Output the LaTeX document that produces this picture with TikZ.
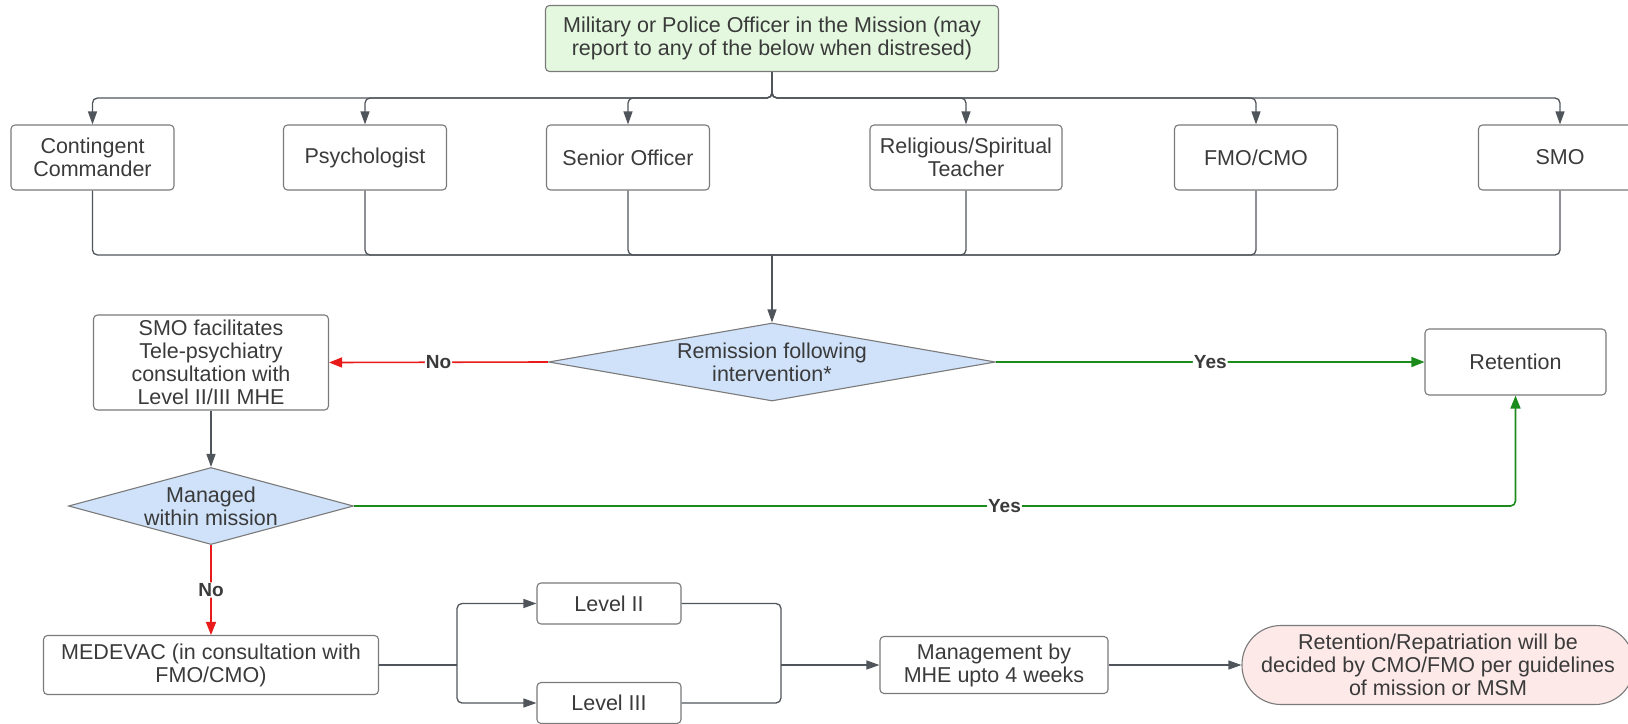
\documentclass[tikz,border=0pt]{standalone}
\usepackage{fontspec}
\setmainfont{Liberation Sans}
\usepackage{xcolor}
\usetikzlibrary{arrows.meta, shapes.geometric, positioning}

\definecolor{startgreen}{HTML}{E3F8DF}
\definecolor{decblue}{HTML}{CFE2FA}
\definecolor{endpink}{HTML}{FCE9E8}
\definecolor{linegray}{HTML}{50555B}
\definecolor{boxgray}{HTML}{7A7A7A}
\definecolor{txtgray}{HTML}{3A3A3A}
\definecolor{noRed}{HTML}{E81A1A}
\definecolor{yesGreen}{HTML}{1B8C1B}

\tikzset{
  box/.style={draw=boxgray, line width=1.1pt, rounded corners=4pt, align=center,
    text=txtgray, inner sep=2pt, font=\fontsize{21.5}{23}\selectfont},
  decision/.style={diamond, draw=boxgray, fill=decblue, line width=1.1pt, align=center,
    text=txtgray, inner sep=0pt, font=\fontsize{21.5}{23}\selectfont},
  conn/.style={draw=linegray, line width=1.3pt, rounded corners=5pt},
  arr/.style={conn, -{Triangle[length=13pt,width=9pt]}},
  noarr/.style={draw=noRed, line width=1.6pt, rounded corners=5pt, -{Triangle[length=13pt,width=10pt]}},
  yesarr/.style={draw=yesGreen, line width=1.6pt, rounded corners=5pt, -{Triangle[length=13pt,width=10pt]}},
  lbl/.style={fill=white, inner sep=1pt, text=txtgray, font=\bfseries\fontsize{19}{21}\selectfont}
}

\begin{document}
\begin{tikzpicture}[x=1pt, y=-1pt]
\useasboundingbox (0,0) rectangle (1628,723);

% start
\node[box, fill=startgreen, minimum width=453pt, minimum height=66pt] (top) at (772,38.5)
  {Military or Police Officer in the Mission (may\\report to any of the below when distresed)};

% people to report to
\node[box, minimum width=163pt, minimum height=65pt] (cc) at (92.5,157.5) {Contingent\\Commander};
\node[box, minimum width=163pt, minimum height=65pt] (psy) at (365,157.5) {Psychologist};
\node[box, minimum width=163pt, minimum height=65pt] (sen) at (628,157.5) {Senior Officer};
\node[box, minimum width=192pt, minimum height=65pt] (rel) at (966,157.5) {Religious/Spiritual\\Teacher};
\node[box, minimum width=163pt, minimum height=65pt] (fmo) at (1256,157.5) {FMO/CMO};
\node[box, minimum width=163pt, minimum height=65pt] (smo) at (1560,157.5) {SMO};

\coordinate (split) at (772,98);
\coordinate (join) at (772,255);
\foreach \b in {cc,psy,sen,rel,fmo,smo} {
  \draw[arr] (top.south) -- (split) -| (\b.north);
  \draw[conn] (\b.south) |- (join);
}

% first decision
\node[decision, minimum width=447pt, minimum height=78pt, aspect=5.7] (dec1) at (772,362)
  {Remission following\\intervention*};
\draw[arr] (join) -- (dec1.north);

\node[box, minimum width=235pt, minimum height=95pt] (tele) at (211,362.5)
  {SMO facilitates\\Tele-psychiatry\\consultation with\\Level II/III MHE};
\node[box, minimum width=181pt, minimum height=66pt] (ret) at (1515.5,362) {Retention};

\draw[noarr] (dec1.west) -- node[lbl]{No} (tele.east);
\draw[yesarr] (dec1.east) -- node[lbl]{Yes} (ret.west);

% second decision
\node[decision, minimum width=285pt, minimum height=77pt, aspect=3.7] (dec2) at (211,506)
  {Managed\\within mission};
\draw[arr] (tele.south) -- (dec2.north);
\draw[yesarr] (dec2.east) -| node[lbl, pos=0.28]{Yes} (ret.south);

\node[box, minimum width=335pt, minimum height=59pt] (medevac) at (211,665)
  {MEDEVAC (in consultation with\\FMO/CMO)};
\draw[noarr] (dec2.south) -- node[lbl]{No} (medevac.north);

% levels
\node[box, minimum width=144pt, minimum height=41pt] (lvl2) at (609,603.5) {Level II};
\node[box, minimum width=144pt, minimum height=41pt] (lvl3) at (609,703) {Level III};
\node[box, minimum width=228pt, minimum height=57pt] (mgmt) at (994,665)
  {Management by\\MHE upto 4 weeks};
\node[box, fill=endpink, rounded corners=39pt, minimum width=392pt, minimum height=79pt] (fin) at (1438,665)
  {Retention/Repatriation will be\\decided by CMO/FMO per guidelines\\of mission or MSM};

\coordinate (fork) at (457,665);
\coordinate (merge) at (781,665);
\draw[conn] (medevac.east) -- (fork);
\draw[arr] (fork) |- (lvl2.west);
\draw[arr] (fork) |- (lvl3.west);
\draw[conn] (lvl2.east) -| (merge);
\draw[conn] (lvl3.east) -| (merge);
\draw[arr] (merge) -- (mgmt.west);
\draw[arr] (mgmt.east) -- (fin.west);
\end{tikzpicture}
\end{document}
